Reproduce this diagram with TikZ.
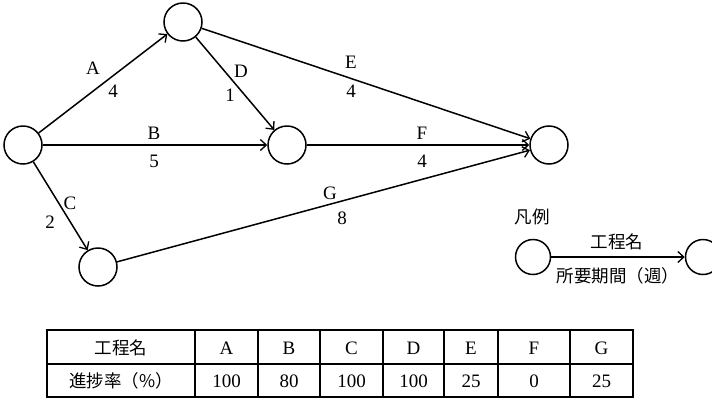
\documentclass[tikz,border=0pt]{standalone}
\usepackage{fontspec}
\setmainfont{Liberation Serif}
\newfontfamily\jp{Noto Sans CJK JP}
\usetikzlibrary{arrows.meta}
\begin{document}
\begin{tikzpicture}[x=1pt,y=-1pt,
  ev/.style={circle,draw,line width=1.5pt,minimum size=38pt,inner sep=0pt},
  lev/.style={circle,draw,line width=1.5pt,minimum size=35pt,inner sep=0pt},
  act/.style={line width=1.5pt,-{Straight Barb[length=6pt,width=11pt,line width=1.3pt]}},
  lbl/.style={inner sep=0pt,font=\fontsize{19}{19}\selectfont},
  jlbl/.style={inner sep=0pt,font=\jp\fontsize{17.5}{17.5}\selectfont},
  grid/.style={line width=1.4pt}]
\useasboundingbox (0,0) rectangle (712,408);
\clip (0,0) rectangle (712,408);
% events
\node[ev] (n1) at (23,145) {};
\node[ev] (n2) at (183,22) {};
\node[ev] (n3) at (287,145) {};
\node[ev] (n4) at (549,145) {};
\node[ev] (n5) at (98,267) {};
% activities
\draw[act] (n1) -- (n2);
\draw[act] (n2) -- (n3);
\draw[act] (n2) -- (n4);
\draw[act] (n1) -- (n3);
\draw[act] (n3) -- (n4);
\draw[act] (n1) -- (n5);
\draw[act] (n5) -- (n4);
% labels
\node[lbl] (lA) at (93,68) {A};
\node[lbl] (dA) at (113,91) {4};
\node[lbl] (lD) at (241,71) {D};
\node[lbl] (dD) at (230,95) {1};
\node[lbl] (lE) at (351,62) {E};
\node[lbl] (dE) at (351,91) {4};
\node[lbl] (lB) at (154,133) {B};
\node[lbl] (dB) at (154,161) {5};
\node[lbl] (lF) at (422,133) {F};
\node[lbl] (dF) at (422,161) {4};
\node[lbl] (lC) at (70,203) {C};
\node[lbl] (dC) at (50,222) {2};
\node[lbl] (lG) at (330,193) {G};
\node[lbl] (dG) at (342,218) {8};
% legend
\node[jlbl] (leg) at (532,217) {凡例};
\node[lev] (l1) at (533,257) {};
\node[lev] (l2) at (703,257) {};
\draw[act] (l1) -- (l2);
\node[jlbl] (lname) at (617,242) {工程名};
\node[jlbl] (ldur) at (618,276) {所要期間（週）};
% table
\draw[grid] (47,330) rectangle (633,397);
\draw[grid] (47,364) -- (633,364);
\foreach \x in {195,258,320,383,444,498,570}
  \draw[grid] (\x,330) -- (\x,397);
\node[jlbl] (h0) at (121,348) {工程名};
\node[jlbl] (r0) at (121,381) {進捗率（\%）};
\node[lbl] (hA) at (226.5,348) {A};
\node[lbl] (hB) at (289,348) {B};
\node[lbl] (hC) at (351.5,348) {C};
\node[lbl] (hD) at (413.5,348) {D};
\node[lbl] (hE) at (471,348) {E};
\node[lbl] (hF) at (534,348) {F};
\node[lbl] (hG) at (601.5,348) {G};
\node[lbl] (vA) at (226.5,381) {100};
\node[lbl] (vB) at (289,381) {80};
\node[lbl] (vC) at (351.5,381) {100};
\node[lbl] (vD) at (413.5,381) {100};
\node[lbl] (vE) at (471,381) {25};
\node[lbl] (vF) at (534,381) {0};
\node[lbl] (vG) at (601.5,381) {25};
\end{tikzpicture}
\end{document}
